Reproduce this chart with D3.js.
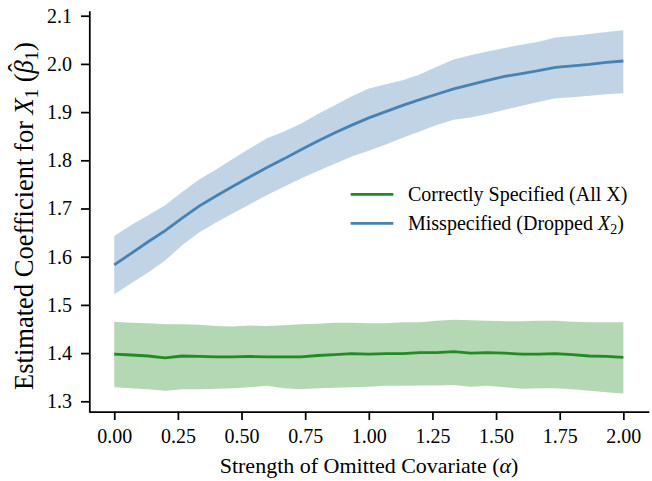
<!DOCTYPE html>
<html><head><meta charset="utf-8">
<script src="https://cdn.jsdelivr.net/npm/d3@7"></script>
<style>body{margin:0;background:#fff}svg{display:block}text{font-family:"Liberation Serif","Times New Roman",serif;fill:#000}</style>
</head><body><svg id="c" width="652" height="481"></svg>
<script>
const alphaVals = d3.range(31).map(i => i * 2 / 30);
const xTicks = [0, 0.25, 0.5, 0.75, 1.0, 1.25, 1.5, 1.75, 2.0];
const yTicks = [1.3, 1.4, 1.5, 1.6, 1.7, 1.8, 1.9, 2.0, 2.1];
const correctMean = [1.398,1.396,1.394,1.390,1.394,1.393,1.392,1.392,1.393,1.392,1.392,1.392,1.395,1.397,1.399,1.398,1.399,1.399,1.401,1.401,1.403,1.400,1.401,1.400,1.398,1.398,1.399,1.397,1.394,1.393,1.391];
const correctUpper = [1.465,1.463,1.462,1.460,1.460,1.459,1.456,1.455,1.457,1.456,1.458,1.460,1.461,1.463,1.463,1.462,1.462,1.464,1.464,1.467,1.469,1.468,1.467,1.466,1.466,1.467,1.467,1.465,1.464,1.464,1.464];
const correctLower = [1.329,1.327,1.325,1.322,1.325,1.325,1.326,1.327,1.329,1.332,1.327,1.325,1.327,1.328,1.329,1.330,1.332,1.332,1.333,1.333,1.334,1.330,1.332,1.329,1.326,1.327,1.327,1.325,1.322,1.319,1.316];
const missMean = [1.583,1.607,1.631,1.654,1.680,1.705,1.726,1.746,1.766,1.785,1.803,1.822,1.840,1.857,1.873,1.888,1.901,1.914,1.926,1.937,1.948,1.957,1.966,1.974,1.980,1.986,1.993,1.996,1.999,2.003,2.006];
const missUpper = [1.643,1.666,1.686,1.707,1.734,1.760,1.781,1.803,1.825,1.846,1.860,1.876,1.896,1.914,1.933,1.949,1.958,1.966,1.978,1.994,2.009,2.018,2.026,2.033,2.040,2.046,2.055,2.058,2.062,2.066,2.070];
const missLower = [1.522,1.545,1.567,1.592,1.624,1.650,1.671,1.690,1.709,1.728,1.745,1.762,1.778,1.793,1.808,1.820,1.833,1.847,1.860,1.873,1.884,1.889,1.896,1.905,1.913,1.921,1.929,1.931,1.934,1.937,1.939];

const svg = d3.select("#c");
const L = 89.3, R = 648.8, T = 10.7, B = 411.7;
const x = d3.scaleLinear().domain([-0.1, 2.1]).range([L - 0.5, R]);
const y = d3.scaleLinear().domain([1.2784, 2.1104]).range([B, T]);

const series = [
  {mean: correctMean, lo: correctLower, hi: correctUpper, color: "#228b22"},
  {mean: missMean, lo: missLower, hi: missUpper, color: "#4682b4"}
];
series.forEach(s => {
  const pts = alphaVals.map((a, i) => ({a, m: s.mean[i], lo: s.lo[i], hi: s.hi[i]}));
  svg.append("path").datum(pts)
    .attr("d", d3.area().x(d => x(d.a)).y0(d => y(d.lo)).y1(d => y(d.hi)))
    .attr("fill", s.color).attr("fill-opacity", 0.34);
  svg.append("path").datum(pts)
    .attr("d", d3.line().x(d => x(d.a)).y(d => y(d.m)))
    .attr("fill", "none").attr("stroke", s.color).attr("stroke-width", 2.8);
});

const xAxis = svg.append("g").attr("transform", `translate(0,${B})`)
  .call(d3.axisBottom(x).tickValues(xTicks).tickFormat(d3.format(".2f")).tickSizeInner(8.3).tickSizeOuter(0).tickPadding(9));
const yAxis = svg.append("g").attr("transform", `translate(${L},0)`)
  .call(d3.axisLeft(y).tickValues(yTicks).tickFormat(d3.format(".1f")).tickSizeInner(8.3).tickSizeOuter(0).tickPadding(9));
[xAxis, yAxis].forEach(g => {
  g.selectAll("path.domain").attr("stroke", "#000").attr("stroke-width", 1.75);
  g.selectAll(".tick line").attr("stroke", "#000").attr("stroke-width", 1.75);
  g.selectAll(".tick text").style("font-family", "Liberation Serif").style("font-size", "20px").attr("fill", "#000");
});

// x label
const xl = svg.append("text").attr("x", (L + R) / 2).attr("y", 473).attr("text-anchor", "middle").style("font-size", "22px");
xl.append("tspan").text("Strength of Omitted Covariate (");
xl.append("tspan").attr("font-style", "italic").text("α");
xl.append("tspan").text(")");

// y label
const yfs = 26.5;
const yl = svg.append("text").attr("transform", `translate(33,216) rotate(-90)`).attr("text-anchor", "middle").style("font-size", yfs + "px");
yl.append("tspan").text("Estimated Coefficient for ");
yl.append("tspan").attr("font-style", "italic").text("X");
yl.append("tspan").attr("font-size", "18.5px").attr("dy", 5).text("1");
yl.append("tspan").attr("dy", -5).text(" (");
yl.append("tspan").attr("font-style", "italic").text("β");
yl.append("tspan").attr("dx", -11.7).attr("dy", -6).text("\u02C6");
yl.append("tspan").attr("dx", 3).attr("dy", 11).attr("font-size", "18.5px").text("1");
yl.append("tspan").attr("dy", -5).text(")");

// legend
const legendItems = [
  {label: "Correctly Specified (All X)", color: "#228b22"},
  {label: null, color: "#4682b4"}
];
legendItems.forEach((it, i) => {
  const yy = 194.3 + i * 29;
  svg.append("line").attr("x1", 350.7).attr("x2", 393.3).attr("y1", yy).attr("y2", yy)
    .attr("stroke", it.color).attr("stroke-width", 2.8);
  const t = svg.append("text").attr("x", 408).attr("y", yy + 6.5).style("font-size", "20px");
  if (it.label) t.text(it.label);
  else {
    t.append("tspan").text("Misspecified (Dropped ");
    t.append("tspan").attr("font-style", "italic").text("X");
    t.append("tspan").attr("font-size", "14px").attr("dy", 4).text("2");
    t.append("tspan").attr("dy", -4).text(")");
  }
});
</script></body></html>
